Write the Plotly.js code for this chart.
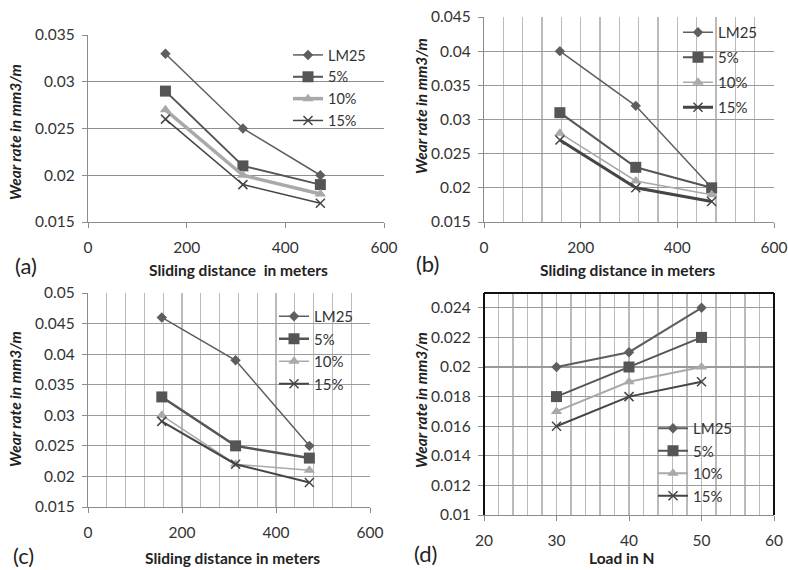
<!DOCTYPE html>
<html>
<head>
<meta charset="utf-8">
<script src="https://cdn.plot.ly/plotly-3.0.1.min.js"></script>
<style>html,body{margin:0;padding:0;background:#fff;}#chart{width:788px;height:570px;}</style>
</head>
<body>
<div id="chart"></div>
<script>
// ---- data ----
const seriesNames = ['LM25', '5%', '10%', '15%'];
const distance = [157, 314, 471];
const load = [30, 40, 50];

const aLM25 = [0.033, 0.025, 0.020];
const a5 = [0.029, 0.021, 0.019];
const a10 = [0.027, 0.020, 0.018];
const a15 = [0.026, 0.019, 0.017];

const bLM25 = [0.040, 0.032, 0.020];
const b5 = [0.031, 0.023, 0.020];
const b10 = [0.028, 0.021, 0.019];
const b15 = [0.027, 0.020, 0.018];

const cLM25 = [0.046, 0.039, 0.025];
const c5 = [0.033, 0.025, 0.023];
const c10 = [0.030, 0.022, 0.021];
const c15 = [0.029, 0.022, 0.019];

const dLM25 = [0.020, 0.021, 0.024];
const d5 = [0.018, 0.020, 0.022];
const d10 = [0.017, 0.019, 0.020];
const d15 = [0.016, 0.018, 0.019];

const panelLabels = ['(a)', '(b)', '(c)', '(d)'];
const xTitles = ['Sliding distance  in meters', 'Sliding distance in meters', 'Sliding distance in meters', 'Load in N'];
const yTitle = 'Wear rate in mm3/m';
const distGrid = [40, 80, 120, 160, 240, 280, 320, 360, 440, 480, 520, 560];
const loadGrid = [22, 24, 26, 28, 32, 34, 36, 38, 42, 44, 46, 48, 52, 54, 56, 58];
const loadYTicks = [0.01, 0.012, 0.014, 0.016, 0.018, 0.02, 0.022, 0.024];
const loadYText = ['0.01', '0.012', '0.014', '0.016', '0.018', '0.02', '0.022', '0.024'];

// ---- styles ----
const FONT = 'Lato, "Open Sans", sans-serif';
const styles = [
  {color: '#5e5e5e', symbol: 'diamond', size: 8},
  {color: '#555555', symbol: 'square', size: 11},
  {color: '#a9a9a9', symbol: 'triangle-up', size: 10},
  {color: '#454545', symbol: 'x-thin-open', size: 9}
];
const widths = [
  [1.5, 2, 3.5, 1.5],
  [1.5, 2, 1.5, 3],
  [1.5, 2.5, 1.5, 2],
  [2, 2, 2, 2]
];

const panels = [
  {x: distance, ys: [aLM25, a5, a10, a15], xa: 'x', ya: 'y', leg: 'legend'},
  {x: distance, ys: [bLM25, b5, b10, b15], xa: 'x2', ya: 'y2', leg: 'legend2'},
  {x: distance, ys: [cLM25, c5, c10, c15], xa: 'x3', ya: 'y3', leg: 'legend3'},
  {x: load, ys: [dLM25, d5, d10, d15], xa: 'x4', ya: 'y4', leg: 'legend4'}
];

const traces = [];
panels.forEach((p, pi) => {
  p.ys.forEach((y, si) => {
    const st = styles[si];
    traces.push({
      type: 'scatter', mode: 'lines+markers',
      x: p.x, y: y, xaxis: p.xa, yaxis: p.ya,
      name: seriesNames[si], legend: p.leg, legendgroup: p.leg + si,
      line: {color: st.color, width: widths[pi][si]},
      marker: {symbol: st.symbol, size: st.size, color: st.color,
               line: {color: st.color, width: st.symbol === 'x-thin-open' ? 1.5 : 0}}
    });
  });
});

function xAxis(domain, range, dtick, minorVals, anchor) {
  const ax = {
    domain: domain, range: range, anchor: anchor, dtick: dtick, tick0: range[0],
    showline: true, linecolor: '#8c8c8c', linewidth: 1.2,
    ticks: 'outside', ticklen: 5, tickcolor: '#8c8c8c', ticklabelstandoff: 6,
    zeroline: false, showgrid: false,
    tickfont: {family: FONT, size: 15.5, color: '#333'}, fixedrange: true
  };
  if (minorVals) {
    ax.showgrid = true; ax.gridcolor = '#bababa'; ax.gridwidth = 1.2;
    ax.minor = {tickmode: 'array', tickvals: minorVals, ticks: '', showgrid: true, gridcolor: '#bababa', gridwidth: 1.2};
  }
  return ax;
}
function yAxis(domain, range, dtick, anchor, gridcolor) {
  return {
    domain: domain, range: range, anchor: anchor, dtick: dtick, tick0: range[0],
    showline: true, linecolor: '#8c8c8c', linewidth: 1.2,
    ticks: 'outside', ticklen: 5, tickcolor: '#8c8c8c', ticklabelstandoff: 4,
    zeroline: false, showgrid: true, gridcolor: gridcolor, gridwidth: 1.2,
    tickformat: '~g',
    tickfont: {family: FONT, size: 15.5, color: '#333'}, fixedrange: true
  };
}

const W = 788, H = 570;
const dx = (a, b) => [a / W, b / W];
const dy = (top, bottom) => [1 - bottom / H, 1 - top / H];

const legendBase = {bgcolor: 'rgba(0,0,0,0)', xanchor: 'left', yanchor: 'top',
  font: {family: FONT, size: 15, color: '#333'}, itemwidth: 30};

const annText = (text, x, y, opts) => Object.assign({
  text: text, xref: 'paper', yref: 'paper', x: x / W, y: 1 - y / H,
  showarrow: false, xanchor: 'center', yanchor: 'middle',
  font: {family: FONT, size: 13, color: '#222'}
}, opts || {});

const annotations = [];
const labelPos = [[26, 265], [427, 263], [23, 555], [425, 553]];
panelLabels.forEach((t, i) => annotations.push(annText(t, labelPos[i][0], labelPos[i][1],
  {font: {family: FONT, size: 22, color: '#222'}})));
const xtPos = [[238, 270], [627, 270], [232, 558], [621, 558]];
xTitles.forEach((t, i) => annotations.push(annText('<b>' + t + '</b>', xtPos[i][0], xtPos[i][1],
  {font: {family: FONT, size: 15.5, color: '#222'}})));
const ytPos = [[15, 132], [421, 106], [15, 399], [421, 400]];
ytPos.forEach(p => annotations.push(annText('<b><i>' + yTitle + '</i></b>', p[0], p[1],
  {textangle: -90, font: {family: FONT, size: 15.5, color: '#222'}})));

const layout = {
  width: W, height: H, margin: {l: 0, r: 0, t: 0, b: 0},
  paper_bgcolor: '#fff', plot_bgcolor: '#fff', showlegend: true,
  font: {family: FONT},
  xaxis: xAxis(dx(88, 384), [0, 600], 200, null, 'y'),
  yaxis: yAxis(dy(35, 222), [0.015, 0.035], 0.005, 'x', '#8e8e8e'),
  xaxis2: xAxis(dx(484, 774), [0, 600], 200, distGrid, 'y2'),
  yaxis2: yAxis(dy(17, 222), [0.015, 0.045], 0.005, 'x2', '#9a9a9a'),
  xaxis3: xAxis(dx(88, 370), [0, 600], 200, distGrid, 'y3'),
  yaxis3: yAxis(dy(293, 507), [0.015, 0.05], 0.005, 'x3', '#9a9a9a'),
  xaxis4: xAxis(dx(484, 774), [20, 60], 10, loadGrid, 'y4'),
  yaxis4: yAxis(dy(293, 515), [0.01, 0.025], 0.002, 'x4', '#9a9a9a'),
  legend: Object.assign({}, legendBase, {x: 288 / W, y: 1 - 39 / H, tracegroupgap: 0,
    font: {family: FONT, size: 14.5, color: '#333'}}),
  legend2: Object.assign({}, legendBase, {x: 678 / W, y: 1 - 16 / H, tracegroupgap: 2.5}),
  legend3: Object.assign({}, legendBase, {x: 274 / W, y: 1 - 300 / H, tracegroupgap: 0}),
  legend4: Object.assign({}, legendBase, {x: 653 / W, y: 1 - 412 / H, tracegroupgap: 0}),
  annotations: annotations,
  shapes: [
    {type: 'line', xref: 'x4 domain', yref: 'y4 domain', x0: 0, x1: 1, y0: 1, y1: 1, line: {color: '#111', width: 2}},
    {type: 'line', xref: 'x4 domain', yref: 'y4 domain', x0: 0, x1: 0, y0: 0, y1: 1, line: {color: '#111', width: 2}},
    {type: 'line', xref: 'x4 domain', yref: 'y4 domain', x0: 1, x1: 1, y0: 0, y1: 1, line: {color: '#111', width: 2}}
  ]
};
layout.yaxis4.tickformat = '';
layout.yaxis4.tickmode = 'array';
layout.yaxis4.tickvals = loadYTicks;
layout.yaxis4.ticktext = loadYText;

Plotly.newPlot('chart', traces, layout, {displayModeBar: false, staticPlot: true});
</script>
</body>
</html>
